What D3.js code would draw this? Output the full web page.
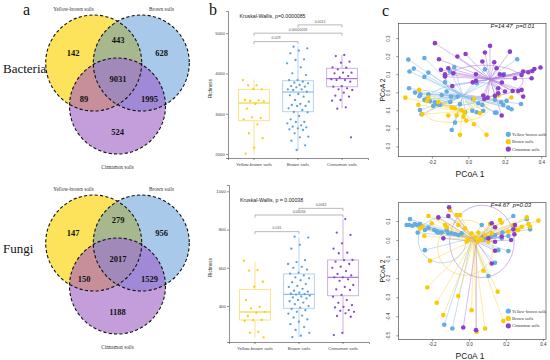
<!DOCTYPE html>
<html><head><meta charset="utf-8">
<script src="https://cdn.jsdelivr.net/npm/d3@7"></script>
<style>body{margin:0;background:#fff}svg{display:block}</style>
</head><body>
<svg id="fig" width="550" height="360"></svg>
<script>
// ================= DATA =================
const soilGroups = ["Yellow-brown soils", "Brown soils", "Cinnamon soils"];
// Venn regions: Y only, B only, C only, Y∩B, Y∩C, B∩C, Y∩B∩C
const vennRegions = ["Y", "B", "C", "YB", "YC", "BC", "YBC"];
const bacteriaOTUs = [142, 628, 524, 443, 89, 1995, 9031];
const fungiOTUs = [147, 956, 1188, 279, 150, 1529, 2017];

// Richness box plots (b)
const bacRichTicks = [2000, 3000, 4000, 5000];
const bacWhiskLow = [1993, 2082, 3134];
const bacQ1 = [2826, 3050, 3670];
const bacMedian = [3265, 3538, 3871];
const bacQ3 = [3605, 3819, 4126];
const bacWhiskHigh = [3853, 4662, 4457];
const bacRichYB = [3836, 3705, 3705, 3605, 3613, 3340, 3332, 3315, 3307, 3241, 3125, 2893, 2910, 2860, 2736, 2514, 2390, 2157, 2008];
const bacRichBrown = [4663, 4622, 4564, 4498, 4349, 4333, 4250, 4151, 4002, 3960, 3836, 3836, 3795, 3770, 3754, 3712, 3687, 3671, 3654, 3605, 3605, 3588, 3547, 3489, 3456, 3423, 3340, 3299, 3241, 3216, 3191, 3191, 3133, 3092, 3042, 3034, 2943, 2860, 2794, 2794, 2761, 2711, 2678, 2662, 2637, 2612, 2596, 2513, 2430, 2414, 2331, 2215, 2099];
const bacRichCinn = [4457, 4432, 4291, 4266, 4151, 4142, 4101, 4018, 4018, 4002, 3935, 3902, 3853, 3836, 3836, 3795, 3687, 3671, 3630, 3605, 3588, 3522, 3447, 3423, 3340, 3323, 3158, 3125, 2414];
const bacKW = "Kruskal-Wallis, p=0.0000085";
const bacPairs = [[0, 1], [0, 2], [1, 2]];
const bacPairP = ["0.029", "0.00000018", "0.0015"];

const funRichTicks = [400, 600, 800, 1000];
const funWhiskLow = [234, 238, 252];
const funQ1 = [327, 388, 454];
const funMedian = [369, 461, 550];
const funQ3 = [487, 568, 641];
const funWhiskHigh = [632, 760, 855];
const funRichYB = [637, 588, 585, 527, 501, 431, 396, 388, 370, 365, 348, 327, 327, 323, 265, 260, 236];
const funRichBrown = [763, 758, 720, 700, 640, 630, 620, 605, 600, 590, 575, 570, 560, 550, 545, 535, 525, 515, 505, 500, 490, 480, 475, 470, 465, 462, 460, 455, 450, 445, 440, 432, 425, 418, 410, 400, 392, 385, 378, 370, 360, 350, 340, 330, 318, 305, 290, 275, 260, 245, 238];
const funRichCinn = [855, 784, 772, 728, 700, 679, 676, 641, 640, 632, 620, 606, 600, 583, 568, 560, 550, 550, 540, 532, 510, 500, 487, 484, 458, 449, 431, 417, 405, 396, 393, 379, 375, 370, 362, 348, 344, 260, 248];
const funKW = "Kruskal-Wallis, p = 0.00038";
const funPairs = [[0, 1], [0, 2], [1, 2]];
const funPairP = ["0.031", "0.00034", "0.0062"];

// PCoA (c)
const bacPcoaTicksX = [-0.2, 0.0, 0.2, 0.4];
const bacPcoaTicksY = [-0.3, -0.2, -0.1, 0.0, 0.1, 0.2, 0.3];
const bacPcoaStat = "F=14.47  p=0.01";
const bacPcoaYB = [[-0.329,0.181],[-0.241,0.190],[-0.323,0.115],[-0.299,0.131],[-0.241,0.085],[-0.219,0.109],[-0.077,0.139],[-0.100,0.115],[-0.128,0.055],[0.046,0.050],[0.091,0.127],[0.268,0.183],[0.289,-0.065],[-0.325,0.022],[-0.292,-0.002],[-0.263,-0.011],[-0.268,-0.022],[-0.228,-0.037],[-0.210,-0.050],[-0.170,-0.066],[-0.192,-0.076],[-0.241,-0.042],[-0.265,-0.098],[-0.256,-0.122],[-0.095,-0.024],[-0.058,-0.024],[-0.099,-0.054],[-0.046,-0.066],[0.027,-0.037],[0.055,-0.061],[0.022,-0.103],[0.046,-0.111],[0.077,-0.070],[0.082,-0.103],[-0.018,-0.111],[-0.073,-0.168],[-0.091,-0.209],[0.146,-0.113],[0.155,-0.113],[0.192,-0.070],[0.219,-0.085],[0.237,-0.094],[0.179,-0.055],[0.210,-0.048],[-0.155,-0.070],[-0.219,-0.011],[-0.119,0.004],[-0.146,-0.015],[0.146,-0.042],[-0.183,-0.055],[0.196,0.101]];
const bacPcoaBrown = [[-0.270,0.013],[-0.345,-0.030],[-0.274,-0.070],[-0.226,-0.048],[-0.252,-0.122],[-0.219,-0.030],[-0.164,-0.055],[-0.091,-0.085],[-0.037,-0.098],[-0.022,-0.111],[-0.110,-0.129],[-0.064,-0.129],[-0.027,-0.135],[0.031,-0.177],[-0.046,-0.236],[0.100,-0.236],[0.064,-0.116],[-0.011,-0.157],[0.031,-0.037],[0.164,-0.018],[0.236,-0.029],[-0.073,-0.089]];
const bacPcoaCinn = [[-0.183,0.272],[0.119,0.257],[-0.060,0.198],[-0.015,0.212],[-0.161,0.183],[0.091,0.220],[0.228,0.225],[0.077,0.170],[-0.110,0.133],[-0.150,0.124],[-0.128,0.100],[-0.128,0.087],[-0.082,0.105],[0.042,0.100],[0.042,0.063],[0.024,0.055],[0.142,0.166],[0.155,0.133],[0.173,0.100],[0.184,0.054],[0.164,0.022],[0.192,0.096],[0.256,0.078],[0.292,0.096],[0.301,0.115],[0.329,0.111],[0.351,0.118],[0.362,0.129],[0.396,0.137],[0.347,0.078],[0.301,-0.024],[0.274,0.007],[0.201,0.004],[0.164,-0.006],[0.146,-0.020],[0.106,-0.030],[0.082,-0.018],[0.088,-0.037],[0.183,-0.129],[0.243,0.007],[0.292,0.013],[-0.088,0.035]];
const bacPcoaCentroids = [[-0.030,-0.020],[-0.030,-0.105],[0.119,0.072]];
// ellipse: centre x, centre y, semi-axis x, semi-axis y, rotation (deg)
const bacPcoaEllipses = [[-0.030,-0.010,0.190,0.060,-8],[-0.060,-0.110,0.170,0.055,-5],[0.086,0.063,0.214,0.087,0]];

const funPcoaTicksX = [-0.2, 0.0, 0.2, 0.4];
const funPcoaTicksY = [-0.5, -0.4, -0.3, -0.2, -0.1, 0.0, 0.1];
const funPcoaStat = "F=4.67  p=0.03";
const funPcoaYB = [[-0.320,0.110],[-0.338,0.079],[-0.325,0.079],[-0.307,0.075],[-0.293,0.084],[-0.278,0.079],[-0.266,0.084],[-0.257,0.074],[-0.278,0.039],[-0.239,0.053],[-0.220,0.065],[-0.188,0.053],[-0.175,0.044],[-0.166,0.039],[-0.148,0.039],[-0.121,0.053],[-0.112,0.035],[-0.094,0.035],[-0.076,0.032],[-0.058,0.026],[-0.040,0.035],[0.069,0.079],[0.078,0.018],[0.123,0.018],[0.141,0.026],[0.181,0.039],[0.213,0.021],[0.240,0.126],[0.313,0.109],[0.331,0.056],[0.159,-0.053],[0.213,-0.058],[-0.239,-0.053],[0.141,-0.119],[0.105,-0.189],[-0.134,-0.445],[-0.090,-0.464],[0.087,0.009],[0.177,0.009]];
const funPcoaBrown = [[-0.220,0.126],[-0.166,0.114],[-0.103,0.158],[-0.067,0.131],[-0.049,0.131],[-0.202,0.088],[-0.130,0.079],[-0.121,0.067],[-0.242,0.021],[-0.058,0.079],[-0.022,0.061],[0.014,0.035],[0.033,0.014],[0.069,0.004],[0.087,0.026],[0.114,0.084],[0.141,0.067],[0.168,0.105],[0.177,0.091],[0.213,0.044],[0.240,0.079],[0.249,0.056],[0.267,0.053],[0.286,0.070],[0.313,0.119],[0.322,0.084],[0.331,0.070],[0.376,0.102],[0.051,0.039],[-0.013,-0.009],[-0.004,0.004],[0.047,-0.009],[0.060,0.000],[0.105,-0.009],[0.123,0.035],[-0.211,-0.109],[-0.226,-0.249],[-0.175,-0.329],[-0.058,-0.294],[-0.139,-0.394],[0.014,-0.368],[0.078,-0.161],[0.155,-0.271],[0.087,-0.464],[0.042,-0.481],[0.186,-0.425],[-0.266,0.061],[-0.253,0.070]];
const funPcoaCinn = [[-0.108,0.172],[-0.166,0.119],[-0.112,0.126],[-0.139,0.009],[0.123,0.088],[0.141,0.067],[0.240,0.056],[0.246,0.030],[0.228,0.000],[0.141,-0.056],[0.123,-0.123],[0.177,0.018],[0.249,0.079],[0.105,0.009],[-0.031,-0.459],[0.038,-0.473],[0.141,-0.009]];
const funPcoaCentroids = [[0.015,0.010],[0.025,0.000],[0.040,-0.008]];
const funPcoaEllipses = [[-0.145,0.000,0.130,0.120,0],[-0.020,-0.040,0.150,0.145,0],[0.070,-0.007,0.175,0.190,0]];

// ================= DRAWING =================
const svg = d3.select("#fig");
const serif = "'Liberation Serif','Times New Roman',serif";
const sans = "'Liberation Sans',Arial,sans-serif";
const defs = svg.append("defs");

// Panel letters
[["a", 23, 15], ["b", 209, 15], ["c", 382, 16]].forEach(([t, x, y]) =>
  svg.append("text").attr("x", x).attr("y", y).attr("font-family", serif)
    .attr("font-size", 16).attr("fill", "#111").text(t));

// ---------- Venn (a) ----------
const vennCircles = [{cx: 93.7, cy: 63}, {cx: 141.3, cy: 63}, {cx: 117.5, cy: 106}];
const vennR = 48;
const vennFill = {Y: "#fce35b", B: "#a9c9ea", C: "#c49ddb", YB: "#a8b88e", YC: "#c68f99", BC: "#a089d6", YBC: "#a189ba"};
const vennLabelPos = {Y: [73, 53], B: [161.5, 53], C: [117.5, 132], YB: [118, 40], YC: [84, 99], BC: [149.5, 99], YBC: [118, 79]};

function drawVenn(counts, dy, name, id) {
  const g = svg.append("g").attr("transform", `translate(0,${dy})`);
  vennCircles.forEach((c, i) => {
    defs.append("clipPath").attr("id", `${id}c${i}`)
      .attr("clipPathUnits", "userSpaceOnUse")
      .append("circle").attr("cx", c.cx).attr("cy", c.cy).attr("r", vennR);
  });
  const circ = (sel, i, fill) => sel.append("circle").attr("cx", vennCircles[i].cx)
    .attr("cy", vennCircles[i].cy).attr("r", vennR).attr("fill", fill);
  circ(g, 0, vennFill.Y);
  circ(g, 1, vennFill.B);
  circ(g, 2, vennFill.C);
  circ(g, 1, vennFill.YB).attr("clip-path", `url(#${id}c0)`);
  circ(g, 2, vennFill.YC).attr("clip-path", `url(#${id}c0)`);
  circ(g, 2, vennFill.BC).attr("clip-path", `url(#${id}c1)`);
  const gg = g.append("g").attr("clip-path", `url(#${id}c0)`);
  circ(gg, 2, vennFill.YBC).attr("clip-path", `url(#${id}c1)`);
  vennCircles.forEach((c, i) => circ(g, i, "none").attr("stroke", "#111")
    .attr("stroke-width", 1.1).attr("stroke-dasharray", "3.2,2.2"));
  g.selectAll("text.num").data(vennRegions).join("text").attr("class", "num")
    .attr("x", d => vennLabelPos[d][0]).attr("y", d => vennLabelPos[d][1])
    .attr("text-anchor", "middle").attr("dominant-baseline", "central")
    .attr("font-family", serif).attr("font-weight", "bold").attr("font-size", 8.5)
    .attr("fill", "#111").text((d, i) => counts[i]);
  const setPos = [[73.5, 10.8], [161.5, 10.8], [117.5, 168.5]];
  g.selectAll("text.set").data(soilGroups).join("text").attr("class", "set")
    .attr("x", (d, i) => setPos[i][0]).attr("y", (d, i) => setPos[i][1])
    .attr("text-anchor", "middle").attr("font-family", serif).attr("font-size", 5.2)
    .attr("fill", "#333").text(d => d);
  g.append("text").attr("x", 3).attr("y", 72.5).attr("font-family", serif)
    .attr("font-size", 13).attr("fill", "#111").text(name);
}
drawVenn(bacteriaOTUs, 0, "Bacteria", "vb");
drawVenn(fungiOTUs, 180, "Fungi", "vf");

// ---------- Box plots (b) ----------
const boxPoint = ["#f6cf10", "#5b9fe2", "#8e48cc"];
const boxLine = ["#f9e38a", "#b4d3f1", "#cdb0e6"];
const boxMed = ["#f3d43c", "#8dbbea", "#a877d8"];

function drawBox(cfg) {
  const g = svg.append("g");
  const y = d3.scaleLinear().domain(cfg.domain).range([cfg.bottom, cfg.top]);
  const x = d3.scaleBand().domain(soilGroups).range([cfg.left, cfg.right])
    .paddingInner(0.3).paddingOuter(0.24);
  const bw = x.bandwidth();
  const yAxis = g.append("g").attr("transform", `translate(${cfg.left},0)`)
    .call(d3.axisLeft(y).tickValues(cfg.ticks).tickSize(2).tickFormat(d3.format("d")));
  const xAxis = g.append("g").attr("transform", `translate(0,${cfg.bottom})`)
    .call(d3.axisBottom(x).tickSize(2));
  [yAxis, xAxis].forEach(a => {
    a.attr("font-family", sans);
    a.selectAll("path,line").attr("stroke", "#444").attr("stroke-width", 0.6);
    a.selectAll("text").attr("font-family", sans).attr("font-size", 4.4).attr("fill", "#444");
  });
  yAxis.selectAll("text").attr("x", -3);
  xAxis.selectAll("text").attr("y", 5);
  g.append("text").attr("transform", `translate(212,${(cfg.top + cfg.bottom) / 2 + 4}) rotate(-90)`)
    .attr("text-anchor", "middle").attr("font-family", sans).attr("font-size", 4.6)
    .attr("fill", "#333").text("Richness");
  soilGroups.forEach((s, i) => {
    const cx = x(s) + bw / 2;
    const gb = g.append("g");
    gb.append("line").attr("x1", cx).attr("x2", cx).attr("y1", y(cfg.lo[i])).attr("y2", y(cfg.q1[i]))
      .attr("stroke", boxLine[i]).attr("stroke-width", 1);
    gb.append("line").attr("x1", cx).attr("x2", cx).attr("y1", y(cfg.q3[i])).attr("y2", y(cfg.hi[i]))
      .attr("stroke", boxLine[i]).attr("stroke-width", 1);
    gb.append("rect").attr("x", x(s)).attr("width", bw).attr("y", y(cfg.q3[i]))
      .attr("height", y(cfg.q1[i]) - y(cfg.q3[i])).attr("fill", "#fff").attr("fill-opacity", 0.6)
      .attr("stroke", boxLine[i]).attr("stroke-width", 1);
    gb.append("line").attr("x1", x(s)).attr("x2", x(s) + bw).attr("y1", y(cfg.med[i])).attr("y2", y(cfg.med[i]))
      .attr("stroke", boxMed[i]).attr("stroke-width", 1.2);
    g.selectAll(null).data(cfg.points[i]).join("circle")
      .attr("cx", (d, j) => cx + (((j * 0.618034 + i * 0.3) % 1) - 0.5) * bw * 0.72)
      .attr("cy", d => y(d)).attr("r", 1.15).attr("fill", boxPoint[i]);
  });
  // significance brackets
  cfg.pairs.forEach(([a, b], k) => {
    const x1 = x(soilGroups[a]) + bw / 2, x2 = x(soilGroups[b]) + bw / 2, yy = y(cfg.brY[k]);
    g.append("path").attr("d", `M${x1},${yy + 2.6}V${yy}H${x2}V${yy + 2.6}`)
      .attr("fill", "none").attr("stroke", "#9a9a9a").attr("stroke-width", 0.7);
    g.append("text").attr("x", (x1 + x2) / 2).attr("y", yy - 2.2).attr("text-anchor", "middle")
      .attr("font-family", sans).attr("font-size", 3.5).attr("fill", "#555").text(cfg.pLabels[k]);
  });
  g.append("text").attr("x", cfg.kwX).attr("y", y(cfg.kwY)).attr("font-family", sans)
    .attr("font-size", 5.2).attr("fill", "#222").text(cfg.kw);
}
drawBox({domain: [1900, 5550], top: 11, bottom: 158, left: 228, right: 368, ticks: bacRichTicks,
  lo: bacWhiskLow, q1: bacQ1, med: bacMedian, q3: bacQ3, hi: bacWhiskHigh,
  points: [bacRichYB, bacRichBrown, bacRichCinn], pairs: bacPairs, pLabels: bacPairP,
  brY: [4790, 5000, 5205], kw: bacKW, kwX: 239.5, kwY: 5375});
drawBox({domain: [212, 1033], top: 185, bottom: 342, left: 229, right: 369, ticks: funRichTicks,
  lo: funWhiskLow, q1: funQ1, med: funMedian, q3: funQ3, hi: funWhiskHigh,
  points: [funRichYB, funRichBrown, funRichCinn], pairs: funPairs, pLabels: funPairP,
  brY: [789, 876, 911], kw: funKW, kwX: 240, kwY: 946});

// ---------- PCoA (c) ----------
const pcoaCol = ["#66abe2", "#f8cb05", "#8c3fc9"];
const pcoaLine = ["#8fc0ea", "#f9d850", "#b083dc"];

function drawPcoa(cfg) {
  const g = svg.append("g");
  const x = d3.scaleLinear().domain(cfg.xDom).range([398.3, 546]);
  const y = d3.scaleLinear().domain(cfg.yDom).range([cfg.bottom, cfg.top]);
  const clipId = cfg.id + "clip";
  defs.append("clipPath").attr("id", clipId).append("rect").attr("x", 398.3).attr("y", cfg.top)
    .attr("width", 546 - 398.3).attr("height", cfg.bottom - cfg.top);
  const inner = g.append("g").attr("clip-path", `url(#${clipId})`);
  const groups = cfg.groups;
  cfg.ellipses.forEach((e, i) => {
    const cx = x(e[0]), cy = y(e[1]);
    const rx = x(e[0] + e[2]) - cx, ry = cy - y(e[1] + e[3]);
    inner.append("ellipse").attr("cx", cx).attr("cy", cy).attr("rx", rx).attr("ry", ry)
      .attr("transform", `rotate(${e[4]},${cx},${cy})`).attr("fill", "none")
      .attr("stroke", pcoaLine[i]).attr("stroke-width", 0.7).attr("stroke-opacity", 0.85);
  });
  groups.forEach((pts, i) => {
    const c = cfg.centroids[i];
    inner.selectAll(null).data(pts).join("line")
      .attr("x1", d => x(d[0])).attr("y1", d => y(d[1]))
      .attr("x2", x(c[0])).attr("y2", y(c[1]))
      .attr("stroke", pcoaLine[i]).attr("stroke-width", 0.7).attr("stroke-opacity", 0.75);
  });
  groups.forEach((pts, i) => {
    inner.selectAll(null).data(pts).join("circle")
      .attr("cx", d => x(d[0])).attr("cy", d => y(d[1])).attr("r", 2.3).attr("fill", pcoaCol[i]);
  });
  g.append("rect").attr("x", 398.3).attr("y", cfg.top).attr("width", 546 - 398.3)
    .attr("height", cfg.bottom - cfg.top).attr("fill", "none").attr("stroke", "#333").attr("stroke-width", 0.6);
  const fmt = d => d.toFixed(1);
  const xa = g.append("g").attr("transform", `translate(0,${cfg.bottom})`)
    .call(d3.axisBottom(x).tickValues(cfg.xTicks).tickSize(2).tickFormat(fmt));
  const ya = g.append("g").attr("transform", `translate(398.3,0)`)
    .call(d3.axisLeft(y).tickValues(cfg.yTicks).tickSize(2).tickFormat(fmt));
  [xa, ya].forEach(a => {
    a.select(".domain").remove();
    a.selectAll("line").attr("stroke", "#333").attr("stroke-width", 0.5);
    a.selectAll("text").attr("font-family", sans).attr("font-size", 4.5).attr("fill", "#333");
  });
  xa.selectAll("text").attr("y", 4);
  ya.selectAll("text").attr("x", 0).attr("y", 0).attr("dy", 0)
    .attr("text-anchor", "middle")
    .attr("transform", "translate(-8.5,0) rotate(-90)");
  g.append("text").attr("x", 470).attr("y", cfg.bottom + 20).attr("text-anchor", "middle")
    .attr("font-family", sans).attr("font-size", 8.5).attr("fill", "#222").text("PCoA 1");
  g.append("text").attr("transform", `translate(384.5,${(cfg.top + cfg.bottom) / 2}) rotate(-90)`)
    .attr("text-anchor", "middle").attr("font-family", sans).attr("font-size", 6.8)
    .attr("fill", "#222").text("PCoA 2");
  g.append("text").attr("x", 490.5).attr("y", cfg.top + 4.3).attr("font-family", sans)
    .attr("font-style", "italic").attr("font-size", 6).attr("fill", "#222")
    .style("white-space", "pre").text(cfg.stat);
  soilGroups.forEach((s, i) => {
    const ly = cfg.legY + i * 7.4;
    g.append("circle").attr("cx", 508.3).attr("cy", ly).attr("r", 2.6).attr("fill", pcoaCol[i]);
    g.append("text").attr("x", 512).attr("y", ly + 1.5).attr("font-family", serif)
      .attr("font-size", 4.4).attr("fill", "#333").text(s);
  });
}
drawPcoa({id: "pb", xDom: [-0.384, 0.426], yDom: [-0.357, 0.382], top: 23.3, bottom: 156.7,
  xTicks: bacPcoaTicksX, yTicks: bacPcoaTicksY, groups: [bacPcoaYB, bacPcoaBrown, bacPcoaCinn],
  centroids: bacPcoaCentroids, ellipses: bacPcoaEllipses, stat: bacPcoaStat, legY: 134.3});
drawPcoa({id: "pf", xDom: [-0.383, 0.417], yDom: [-0.521, 0.196], top: 202.7, bottom: 339.3,
  xTicks: funPcoaTicksX, yTicks: funPcoaTicksY, groups: [funPcoaYB, funPcoaBrown, funPcoaCinn],
  centroids: funPcoaCentroids, ellipses: funPcoaEllipses, stat: funPcoaStat, legY: 311});
</script>
</body></html>
